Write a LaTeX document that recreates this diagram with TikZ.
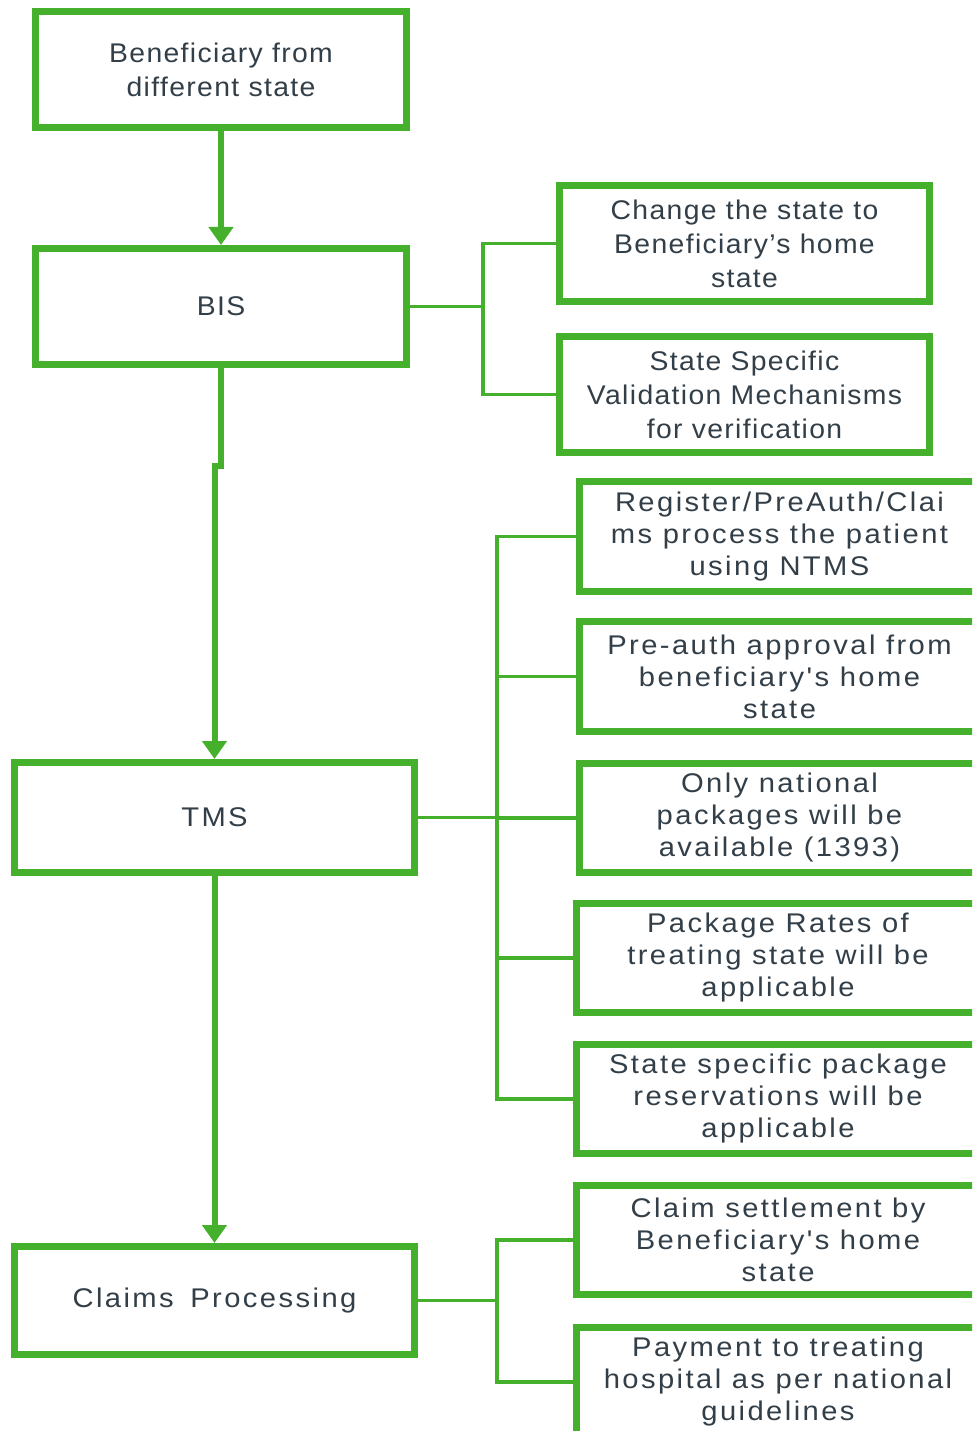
\documentclass[tikz,border=0pt]{standalone}
\usepackage{fontspec}
\setmainfont{Liberation Sans}
\newfontfamily\narrowsp{Liberation Sans}[LetterSpace=5,FakeStretch=1.05]
\newfontfamily\widesp{Liberation Sans}[LetterSpace=9,FakeStretch=1.08]
\usetikzlibrary{arrows.meta}
\definecolor{grn}{HTML}{45B02B}
\definecolor{txt}{HTML}{333F48}
\begin{document}
\begin{tikzpicture}[x=1pt,y=-1pt,
  box/.style={draw=grn, line width=7pt, fill=white, text=txt, align=center, inner sep=0pt},
  boxA/.style={box, font=\narrowsp\fontsize{27}{34}\selectfont},
  boxB/.style={box, font=\widesp\fontsize{27}{32}\selectfont},
  flow/.style={draw=grn, line width=6pt, -{Triangle[width=24pt,length=18pt]}},
  conn/.style={draw=grn, line width=3.5pt}]
\useasboundingbox (0,0) rectangle (972,1431);
\clip (0,0) rectangle (972,1431);
% left column
\node[boxA, minimum width=371pt, minimum height=116pt] (b1) at (221,69.5) {Beneficiary from\\different state};
\node[boxA, minimum width=371pt, minimum height=116pt] (bis) at (221,306.5) {BIS};
\node[boxB, minimum width=400pt, minimum height=110pt] (tms) at (214.5,817.5) {TMS};
\node[boxB, minimum width=400pt, minimum height=108pt] (clp) at (214.5,1300.5) {Claims\kern6pt\ Processing};
% right group 1
\node[boxA, minimum width=370pt, minimum height=116pt] (chg) at (744.5,243.5) {Change the state to\\Beneficiary’s home\\state};
\node[boxA, minimum width=370pt, minimum height=116pt] (ssv) at (744.5,394.5) {State Specific\\Validation Mechanisms\\for verification};
% right group 2
\node[boxB, minimum width=400pt, minimum height=110pt] (reg) at (779.5,536.5) {Register/PreAuth/Clai\\ms process the patient\\using NTMS};
\node[boxB, minimum width=400pt, minimum height=110pt] (pre) at (779.5,676.5) {Pre-auth approval from\\beneficiary's home\\state};
\node[boxB, minimum width=400pt, minimum height=109pt] (onl) at (779.5,818) {Only national\\packages will be\\available (1393)};
\node[boxB, minimum width=403pt, minimum height=109pt] (pkg) at (778,958) {Package Rates of\\treating state will be\\applicable};
\node[boxB, minimum width=403pt, minimum height=109pt] (ssp) at (778,1099) {State specific package\\reservations will be\\applicable};
% right group 3
\node[boxB, minimum width=403pt, minimum height=109pt] (cls) at (778,1240) {Claim settlement by\\Beneficiary's home\\state};
\node[boxB, minimum width=403pt, minimum height=109pt] (pay) at (778,1382) {Payment to treating\\hospital as per national\\guidelines};
% buses
\coordinate (bus1) at (483,306.5);
\coordinate (bus2) at (497,817.5);
\coordinate (bus3) at (497,1300.5);
\coordinate (jog) at (0,466);
% flow arrows
\draw[flow] (b1.south) -- (bis.north);
\draw[flow] (bis.south) -- (bis.south |- jog) -| (tms.north);
\draw[flow] (tms.south) -- (clp.north);
% connectors
\draw[conn] (bis.east) -- (bus1);
\draw[conn] (chg.west) -| (bus1);
\draw[conn] (ssv.west) -| (bus1);
\draw[conn] (tms.east) -- (bus2);
\draw[conn] (reg.west) -| (bus2);
\draw[conn] (pre.west) -| (bus2);
\draw[conn] (onl.west) -| (bus2);
\draw[conn] (pkg.west) -| (bus2);
\draw[conn] (ssp.west) -| (bus2);
\draw[conn] (clp.east) -- (bus3);
\draw[conn] (cls.west) -| (bus3);
\draw[conn] (pay.west) -| (bus3);
\end{tikzpicture}
\end{document}
